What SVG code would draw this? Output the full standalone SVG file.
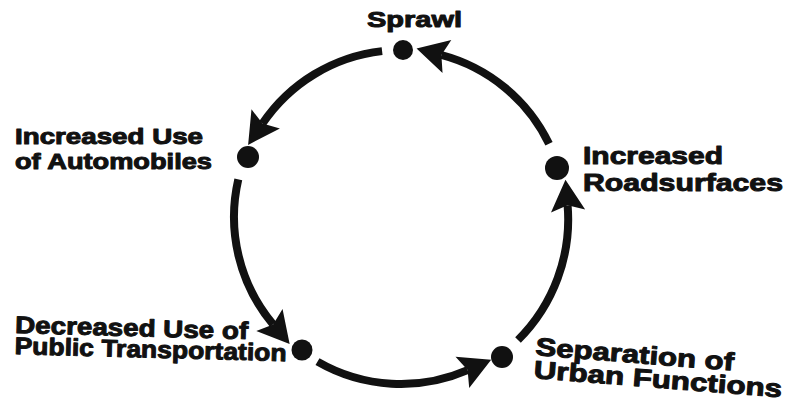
<svg xmlns="http://www.w3.org/2000/svg" width="791" height="410" viewBox="0 0 791 410">
<style>
.lbl{font-family:"Liberation Sans",Arial,sans-serif;font-weight:bold;fill:#111;stroke:#111;stroke-width:1;stroke-linejoin:round}
.arc{fill:none;stroke:#111;stroke-width:8;stroke-linecap:butt;marker-end:url(#ah)}
.dot{fill:#111}
</style>
<defs>
<marker id="ah" markerUnits="userSpaceOnUse" markerWidth="40" markerHeight="40" viewBox="-4 -14 28 28" refX="2" refY="0" orient="auto">
<path d="M -2 -12 L 20 0 L -2 12 L 2 0 Z" fill="#111"/>
</marker>
</defs>
<rect width="791" height="410" fill="#fff"/>
<g id="connectors">
<path class="arc" d="M 382.1 51.1 A 167 167 0 0 0 262.5 123.6"/>
<path class="arc" d="M 238.3 179.4 A 167 167 0 0 0 273.1 324.4"/>
<path class="arc" d="M 317.5 361.6 A 167 167 0 0 0 467.6 370.1"/>
<path class="arc" d="M 518 340 A 170 170 0 0 0 567.6 205.3"/>
<path class="arc" d="M 549 143.8 A 167 167 0 0 0 441.4 55"/>
</g>
<g id="sprawl">
<circle class="dot" cx="403" cy="50" r="10"/>
<text class="lbl" x="367" y="27" font-size="22" textLength="95" lengthAdjust="spacingAndGlyphs">Sprawl</text>
</g>
<g id="automobiles">
<circle class="dot" cx="248" cy="157" r="11"/>
<text class="lbl" x="15" y="144" font-size="22" textLength="188" lengthAdjust="spacingAndGlyphs">Increased Use</text>
<text class="lbl" x="15" y="169" font-size="22" textLength="197" lengthAdjust="spacingAndGlyphs">of Automobiles</text>
</g>
<g id="roadsurfaces">
<circle class="dot" cx="557" cy="168" r="12"/>
<text class="lbl" x="583" y="164" font-size="24" textLength="140" lengthAdjust="spacingAndGlyphs">Increased</text>
<text class="lbl" x="583" y="191" font-size="24" textLength="200" lengthAdjust="spacingAndGlyphs">Roadsurfaces</text>
</g>
<g id="public-transportation">
<circle class="dot" cx="302" cy="350" r="10.5"/>
<g transform="rotate(1.5 15 333)">
<text class="lbl" x="15" y="333" font-size="24" textLength="233" lengthAdjust="spacingAndGlyphs">Decreased Use of</text>
<text class="lbl" x="15" y="354" font-size="24" textLength="272" lengthAdjust="spacingAndGlyphs">Public Transportation</text>
</g>
</g>
<g id="separation">
<circle class="dot" cx="502" cy="357" r="11"/>
<g transform="rotate(4.5 535 355)">
<text class="lbl" x="535" y="355" font-size="25" textLength="199" lengthAdjust="spacingAndGlyphs">Separation of</text>
<text class="lbl" x="535" y="378" font-size="25" textLength="249" lengthAdjust="spacingAndGlyphs">Urban Functions</text>
</g>
</g>
</svg>
